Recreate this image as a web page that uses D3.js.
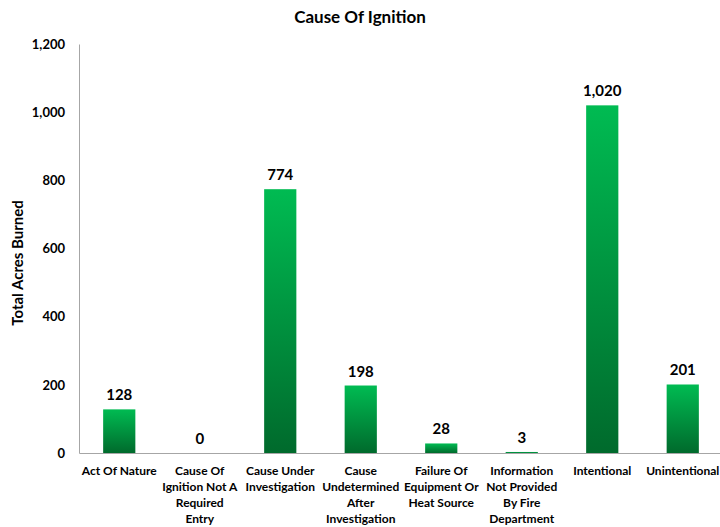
<!DOCTYPE html>
<html><head><meta charset="utf-8">
<script src="https://cdn.jsdelivr.net/npm/d3@7"></script>
<style>body{margin:0;background:#fff;}svg{font-family:Lato,"Open Sans",sans-serif;}</style>
</head><body><svg id="c" width="720" height="527"></svg>
<script>
const categories = ["Act Of Nature","Cause Of Ignition Not A Required Entry","Cause Under Investigation","Cause Undetermined After Investigation","Failure Of Equipment Or Heat Source","Information Not Provided By Fire Department","Intentional","Unintentional"];
const categoryLines = [["Act Of Nature"],["Cause Of","Ignition Not A","Required","Entry"],["Cause Under","Investigation"],["Cause","Undetermined","After","Investigation"],["Failure Of","Equipment Or","Heat Source"],["Information","Not Provided","By Fire","Department"],["Intentional"],["Unintentional"]];
const values = [128,0,774,198,28,3,1020,201];
const yTicks = [0,200,400,600,800,1000,1200];
const title = "Cause Of Ignition";
const yTitle = "Total Acres Burned";

const svg = d3.select("#c");
const x = d3.scaleBand().domain(categories).range([79,723]).paddingInner(0.6).paddingOuter(0.3);
const y = d3.scaleLinear().domain([0,1200]).range([453,44]);

const defs = svg.append("defs");
const g = defs.append("linearGradient").attr("id","gr").attr("x1",0).attr("y1",0).attr("x2",0).attr("y2",1);
g.append("stop").attr("offset","0%").attr("stop-color","#00bb52");
g.append("stop").attr("offset","100%").attr("stop-color","#006a2c");

svg.append("text").attr("x",360).attr("y",23).attr("text-anchor","middle")
  .attr("font-size",17).attr("font-weight","bold").attr("fill","#000").text(title);

const ya = svg.append("g").attr("transform","translate(79,0)")
  .call(d3.axisLeft(y).tickValues(yTicks).tickSize(0).tickPadding(14).tickFormat(d3.format(",")));
ya.select(".domain").attr("stroke","#a6a6a6");
ya.selectAll("text").attr("font-size",13).attr("font-weight","bold").attr("fill","#000").attr("font-family","Lato");

svg.append("text").attr("transform","translate(23,263) rotate(-90)").attr("text-anchor","middle")
  .attr("font-size",15).attr("font-weight","bold").text(yTitle);

svg.selectAll("rect.bar").data(values).enter().append("rect").attr("class","bar")
  .attr("x",(d,i)=>x(categories[i])).attr("width",x.bandwidth())
  .attr("y",d=>y(d)).attr("height",d=>y(0)-y(d)).attr("fill","url(#gr)");

const xa = svg.append("g").attr("transform","translate(0,453)")
  .call(d3.axisBottom(x).tickSize(0).tickFormat(""));
xa.select(".domain").attr("stroke","#a6a6a6");

svg.selectAll("text.val").data(values).enter().append("text").attr("class","val")
  .attr("x",(d,i)=>x(categories[i])+x.bandwidth()/2).attr("y",d=>y(d)-9)
  .attr("text-anchor","middle").attr("font-size",15).attr("font-weight","bold").text(d=>d3.format(",")(d));

categories.forEach((c,i)=>{
  const cx = x(c)+x.bandwidth()/2;
  const t = svg.append("text").attr("x",cx).attr("y",475).attr("text-anchor","middle")
    .attr("font-size",12).attr("font-weight","bold");
  categoryLines[i].forEach((ln,j)=>{
    t.append("tspan").attr("x",cx).attr("dy",j?16:0).text(ln);
  });
});
</script></body></html>
